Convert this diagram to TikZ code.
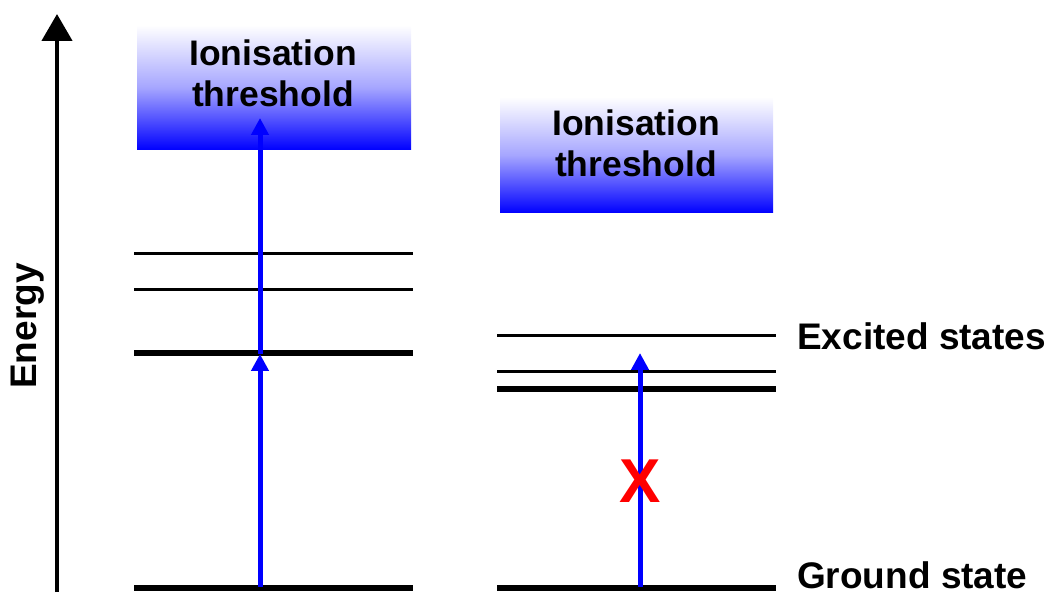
\documentclass[tikz,border=0pt]{standalone}
\usepackage{fontspec}
\setmainfont{Liberation Sans}
\usetikzlibrary{arrows.meta}
\begin{document}
\begin{tikzpicture}[x=1pt,y=-1pt,
  thinlevel/.style={line width=3pt,black},
  thicklevel/.style={line width=6.5pt,black},
  excite/.style={line width=5pt,blue,-{Triangle[width=17pt,length=17pt]}},
  threshbox/.style={minimum width=274pt,minimum height=124pt,inner sep=0pt,
     top color=white,bottom color=blue,middle color=blue!35!white},
  threshtext/.style={font=\bfseries\fontsize{35.5}{41}\selectfont,align=center,inner sep=0pt},
  lbl/.style={font=\bfseries\fontsize{37}{40}\selectfont,anchor=base west,inner sep=0pt}]
\useasboundingbox (0,0) rectangle (1050,593);
% energy axis
\coordinate (ax0) at (57,592);
\coordinate (ax1) at (57,14);
\draw[line width=4.5pt,-{Triangle[width=30pt,length=27pt]}] (ax0) -- (ax1);
\node[rotate=90,font=\bfseries\fontsize{37}{40}\selectfont,inner sep=0pt] (energy) at (28,326) {Energy};
% left threshold box
\node[threshbox,minimum height=125pt] (thL) at (274,87.5) {};
\node[threshtext] (thLt) at (273,73) {Ionisation\\threshold};
% right threshold box
\node[threshbox,minimum height=116pt,minimum width=273pt] (thR) at (636.5,155) {};
\node[threshtext] (thRt) at (636,143) {Ionisation\\threshold};
% left levels
\coordinate (L1a) at (134,254); \coordinate (L1b) at (413,254);
\coordinate (L2a) at (134,290); \coordinate (L2b) at (413,290);
\coordinate (L3a) at (134,353); \coordinate (L3b) at (413,353);
\coordinate (L0a) at (134,588); \coordinate (L0b) at (413,588);
\draw[thinlevel] (L1a) -- (L1b);
\draw[thinlevel] (L2a) -- (L2b);
\draw[thicklevel] (L3a) -- (L3b);
\draw[thicklevel] (L0a) -- (L0b);
% right levels
\coordinate (R1a) at (497,336); \coordinate (R1b) at (776,336);
\coordinate (R2a) at (497,372); \coordinate (R2b) at (776,372);
\coordinate (R3a) at (497,389); \coordinate (R3b) at (776,389);
\coordinate (R0a) at (497,588); \coordinate (R0b) at (776,588);
\draw[thinlevel] (R1a) -- (R1b);
\draw[thinlevel] (R2a) -- (R2b);
\draw[thicklevel] (R3a) -- (R3b);
\draw[thicklevel] (R0a) -- (R0b);
% arrows
\coordinate (aL0) at (260,587);
\coordinate (aL1) at (260,354);
\coordinate (aL2) at (260,118);
\draw[excite] (aL0) -- (aL1);
\draw[excite] (aL1) -- (aL2);
\coordinate (aR0) at (640,587);
\coordinate (aR1) at (640,353);
\draw[excite] (aR0) -- (aR1);
\node[text=red,font=\bfseries\fontsize{62}{62}\selectfont,inner sep=0pt] (cross) at (640,481) {X};
% labels
\node[lbl] (exc) at (797,350) {Excited states};
\node[lbl] (gnd) at (797,588) {Ground state};
\end{tikzpicture}
\end{document}
